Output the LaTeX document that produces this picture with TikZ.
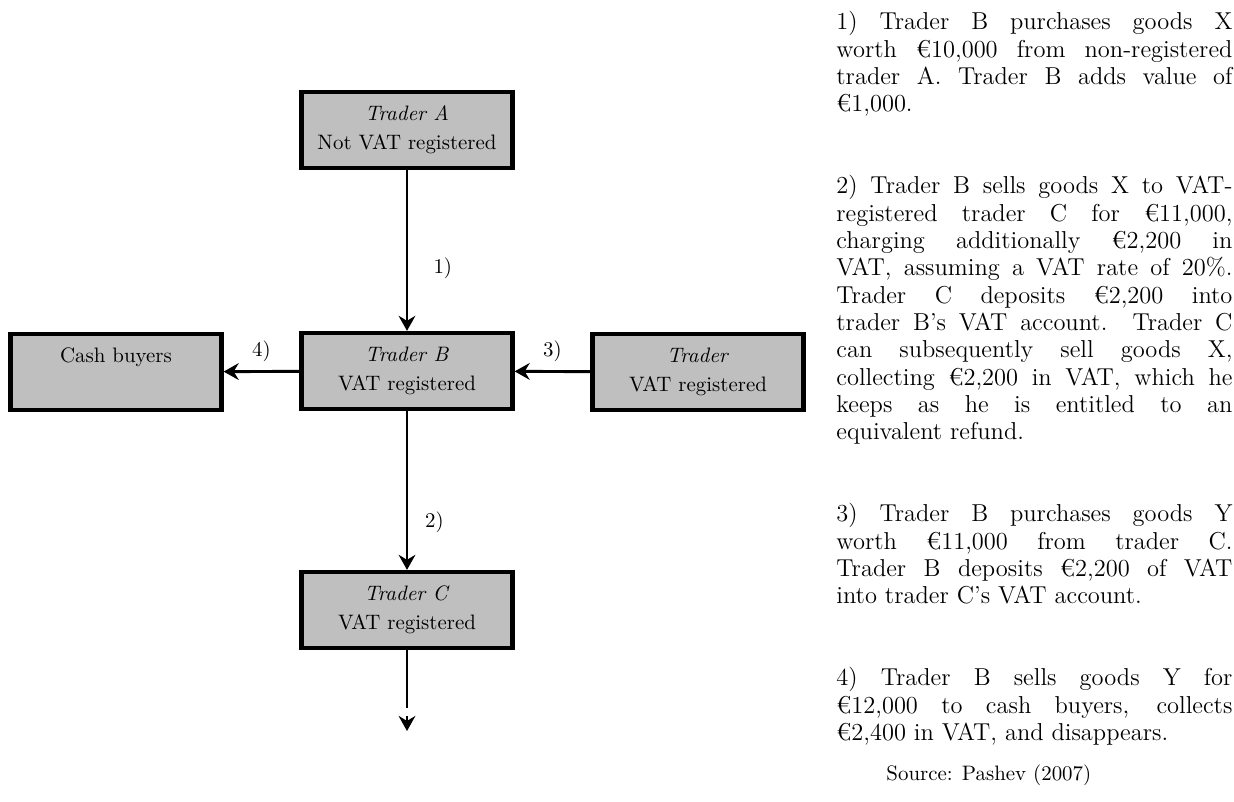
\documentclass[tikz,border=0pt]{standalone}
\usetikzlibrary{arrows.meta}
\begin{document}
\begin{tikzpicture}[x=0.4785pt, y=-0.4785pt,
  box/.style={draw=black, line width=2pt, fill=lightgray, minimum width=101pt, minimum height=36.4pt,
    inner sep=0pt, align=center, font=\fontsize{10}{13.9}\selectfont},
  conn/.style={line width=1.4pt, -{Stealth[length=7.2pt,width=8pt,inset=2.4pt]}},
  lbl/.style={font=\fontsize{10}{12}\selectfont, inner sep=0pt},
  para/.style={anchor=north west, inner sep=0pt, text width=189.5pt, align=justify,
    font=\fontsize{11.7}{13.08}\selectfont}]
\useasboundingbox (0,0) rectangle (1234,802);

\node[box] (A) at (407,130) {\textit{Trader A}\\Not VAT registered};
\node[box] (B) at (407,371) {\textit{Trader B}\\VAT registered};
\node[box] (C) at (407,610) {\textit{Trader C}\\VAT registered};
\node[box] (cash) at (116,372) {Cash buyers\\\phantom{VAT registered}};
\node[box] (T) at (698,372) {\textit{Trader}\\VAT registered};

\draw[conn] (A) -- (B) node[lbl, pos=0.61, right=12pt] (l1) {1)};
\draw[conn] (B) -- (C) node[lbl, pos=0.70, right=8pt] (l2) {2)};
\draw[conn] (T) -- (B) node[lbl, pos=0.5, above=4pt] (l3) {3)};
\draw[conn] (B) -- (cash) node[lbl, pos=0.5, above=4pt] (l4) {4)};

\coordinate (cend) at (407,708);
\coordinate (tipstart) at (407,716);
\coordinate (tipend) at (407,731);
\draw[line width=1.4pt] (C) -- (cend);
\draw[conn] (tipstart) -- (tipend);

\node[para] (txt) at (836,11) {%
\setlength{\parskip}{26.16pt}%
1) Trader B purchases goods X\linebreak
worth €10,000 from non-registered\linebreak
trader A. Trader B adds value of\linebreak
€1,000.\par
2) Trader B sells goods X to VAT-\linebreak
registered trader C for €11,000,\linebreak
charging additionally €2,200 in\linebreak
VAT, assuming a VAT rate of 20\%.\linebreak
Trader C deposits €2,200 into\linebreak
trader B's VAT account. Trader C\linebreak
can subsequently sell goods X,\linebreak
collecting €2,200 in VAT, which he\linebreak
keeps as he is entitled to an\linebreak
equivalent refund.\par
3) Trader B purchases goods Y\linebreak
worth €11,000 from trader C.\linebreak
Trader B deposits €2,200 of VAT\linebreak
into trader C's VAT account.\par
4) Trader B sells goods Y for\linebreak
€12,000 to cash buyers, collects\linebreak
€2,400 in VAT, and disappears.};
\node[lbl, anchor=base west] (src) at (886,780) {Source: Pashev (2007)};
\end{tikzpicture}
\end{document}
